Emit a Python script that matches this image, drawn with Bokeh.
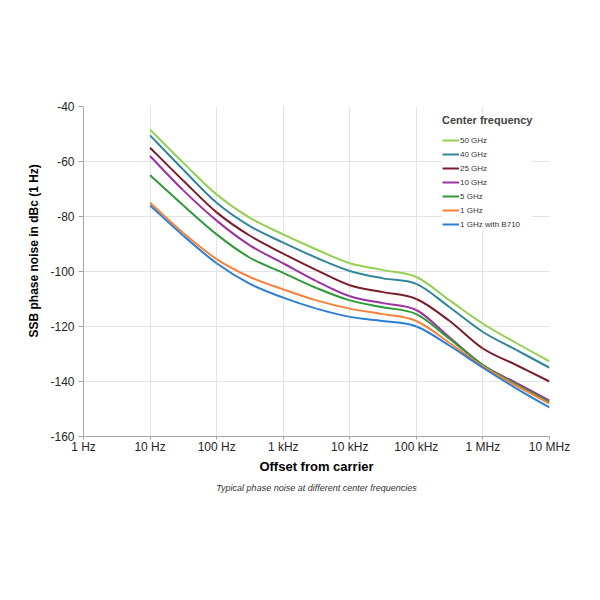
import math
from bokeh.plotting import figure
from bokeh.models import FixedTicker, Legend, LegendItem, Title
from bokeh.embed import file_html
from bokeh.resources import INLINE

# Offset frequencies (Hz), decades and half decades
offset_hz = [10, 31.6, 100, 316, 1e3, 3.16e3, 1e4, 3.16e4, 1e5, 3.16e5, 1e6, 3.16e6, 1e7]

# SSB phase noise in dBc (1 Hz) for each center frequency
noise_50ghz = [-48.4, -60.5, -72.0, -80.5, -86.5, -92.0, -97.0, -99.5, -102.0, -110.5, -119.0, -126.0, -132.7]
noise_40ghz = [-50.5, -63.0, -75.0, -83.5, -89.5, -95.0, -99.8, -102.5, -104.5, -113.0, -122.0, -128.5, -135.0]
noise_25ghz = [-55.0, -67.0, -78.5, -87.0, -93.5, -99.5, -105.0, -107.5, -110.0, -118.0, -128.0, -134.0, -140.0]
noise_10ghz = [-58.0, -70.5, -81.5, -90.5, -97.0, -103.5, -109.0, -111.5, -114.0, -124.0, -134.0, -140.5, -147.0]
noise_5ghz = [-65.0, -76.0, -86.5, -95.0, -100.5, -106.0, -110.5, -113.0, -115.5, -124.5, -134.0, -141.0, -147.5]
noise_1ghz = [-75.0, -86.0, -95.5, -102.0, -106.5, -110.5, -113.5, -115.5, -118.0, -126.0, -134.5, -141.5, -148.0]
noise_1ghz_b710 = [-76.0, -87.0, -97.0, -104.5, -109.5, -113.5, -116.5, -118.0, -120.0, -127.0, -135.0, -142.5, -149.5]

series_names = ["50 GHz", "40 GHz", "25 GHz", "10 GHz", "5 GHz", "1 GHz", "1 GHz with B710"]
series_values = [noise_50ghz, noise_40ghz, noise_25ghz, noise_10ghz, noise_5ghz, noise_1ghz, noise_1ghz_b710]
series_colors = ["#92d050", "#31869b", "#7b1c2a", "#9c32a0", "#2e9a3a", "#f5813a", "#2a7fd4"]

x_ticks = [1, 10, 100, 1000, 10000, 100000, 1000000, 10000000]
x_tick_labels = ["1 Hz", "10 Hz", "100 Hz", "1 kHz", "10 kHz", "100 kHz", "1 MHz", "10 MHz"]
y_ticks = [-160, -140, -120, -100, -80, -60, -40]
y_tick_labels = ["-160", "-140", "-120", "-100", "-80", "-60", "-40"]

FONT = "Liberation Sans"


def smooth_segments(xs, ys):
    """Bezier segments (smoothed line style) through the points, built in log-x space."""
    lx = [math.log10(v) for v in xs]
    n = len(lx)
    seg = dict(x0=[], y0=[], x1=[], y1=[], cx0=[], cy0=[], cx1=[], cy1=[])
    for i in range(n - 1):
        a, b = max(i - 1, 0), min(i + 2, n - 1)
        c0x = lx[i] + (lx[i + 1] - lx[a]) / 6
        c0y = ys[i] + (ys[i + 1] - ys[a]) / 6
        c1x = lx[i + 1] - (lx[b] - lx[i]) / 6
        c1y = ys[i + 1] - (ys[b] - ys[i]) / 6
        seg["x0"].append(xs[i]); seg["y0"].append(ys[i])
        seg["x1"].append(xs[i + 1]); seg["y1"].append(ys[i + 1])
        seg["cx0"].append(10 ** c0x); seg["cy0"].append(c0y)
        seg["cx1"].append(10 ** c1x); seg["cy1"].append(c1y)
    return seg


p = figure(width=600, height=600, x_axis_type="log",
           x_range=(1, 1e7), y_range=(-160, -40),
           output_backend="svg", toolbar_location=None,
           min_border_left=83, min_border_right=51,
           min_border_top=106, min_border_bottom=164)
p.outline_line_color = None
p.background_fill_color = "white"
p.border_fill_color = "white"

# Axes
p.xaxis.ticker = FixedTicker(ticks=x_ticks)
p.xaxis.major_label_overrides = {t: lab for t, lab in zip(x_ticks, x_tick_labels)}
p.yaxis.ticker = FixedTicker(ticks=y_ticks)
p.yaxis.major_label_overrides = {t: lab for t, lab in zip(y_ticks, y_tick_labels)}
for ax in (p.xaxis[0], p.yaxis[0]):
    ax.axis_line_color = "#a6a6a6"
    ax.major_tick_line_color = "#a6a6a6"
    ax.major_tick_in = 0
    ax.minor_tick_out = 0
    ax.minor_tick_in = 0
    ax.major_label_text_font = FONT
    ax.major_label_text_font_size = "12px"
    ax.major_label_text_color = "#262626"
    ax.axis_label_text_font = FONT
    ax.axis_label_text_font_size = "13px"
    ax.axis_label_text_font_style = "bold"
    ax.axis_label_text_color = "black"
p.xaxis.major_tick_out = 3
p.xaxis.major_label_standoff = 0
p.xaxis.axis_label = "Offset from carrier"
p.xaxis.axis_label_standoff = 2
p.yaxis.major_tick_out = 5
p.yaxis.major_label_standoff = 4

# Vertical axis title, left of the tick labels
y_title = Title(text="SSB phase noise in dBc (1 Hz)", align="left", offset=99,
                text_font=FONT, text_font_size="12px", text_font_style="bold",
                text_color="black", standoff=13)
p.add_layout(y_title, "left")

p.xgrid.ticker = FixedTicker(ticks=x_ticks)
p.ygrid.ticker = FixedTicker(ticks=y_ticks)
p.xgrid.grid_line_color = "#e3e3e3"
p.ygrid.grid_line_color = "#e3e3e3"
p.xgrid.minor_grid_line_color = None

# Phase noise curves
items = []
for name, vals, col in zip(series_names, series_values, series_colors):
    seg = smooth_segments(offset_hz, vals)
    r = p.bezier(x0="x0", y0="y0", x1="x1", y1="y1",
                 cx0="cx0", cy0="cy0", cx1="cx1", cy1="cy1",
                 source=seg, line_color=col, line_width=2)
    items.append(LegendItem(label=name, renderers=[r]))

legend = Legend(items=items, location=(359, 205),
                title="Center frequency",
                title_text_font=FONT, title_text_font_size="11px",
                title_text_font_style="bold", title_standoff=7,
                label_text_font=FONT, label_text_font_size="8px",
                label_text_color="#333333",
                glyph_width=17, glyph_height=14, label_height=14,
                label_standoff=1, spacing=0, padding=4,
                border_line_color=None, background_fill_color="white",
                background_fill_alpha=1.0)
p.add_layout(legend, "center")

caption = Title(text="Typical phase noise at different center frequencies",
                align="center", text_font=FONT, text_font_size="9px",
                text_font_style="italic", text_color="#333333",
                standoff=8)
p.add_layout(caption, "below")

open("out.html", "w").write(file_html(p, INLINE))
